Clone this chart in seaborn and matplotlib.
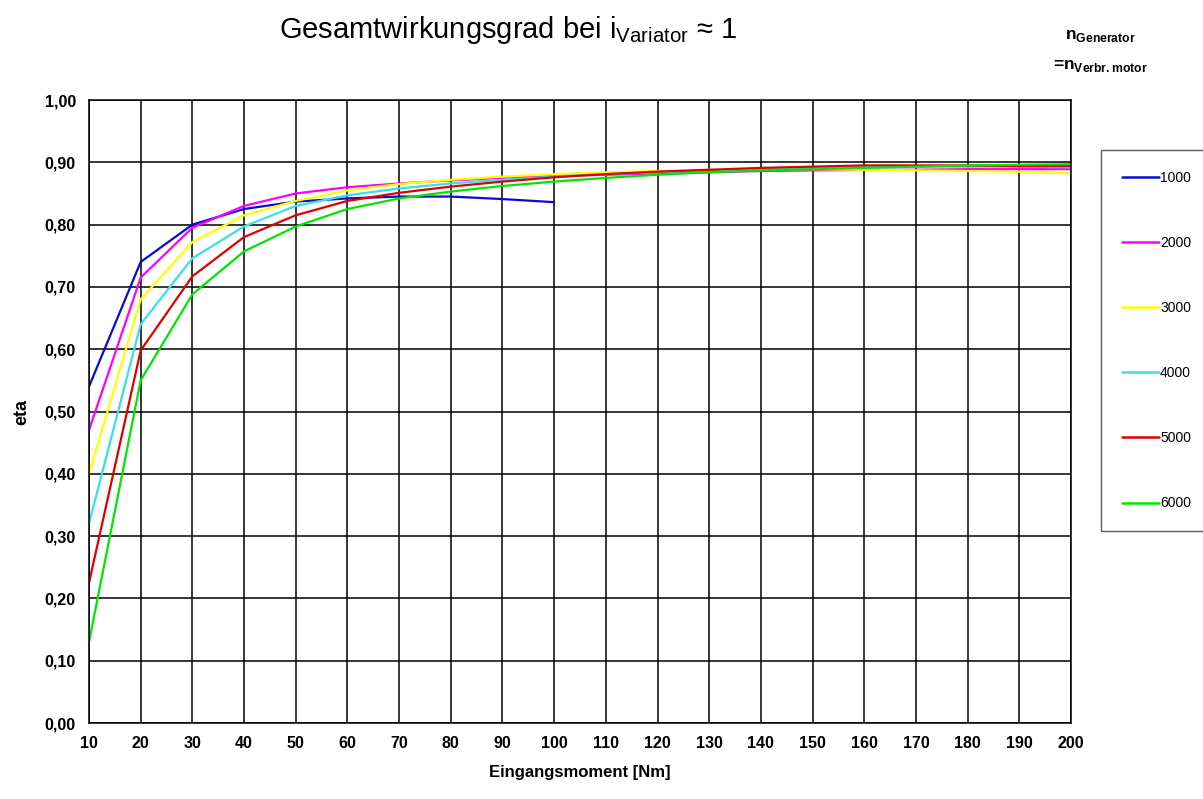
import matplotlib
matplotlib.use("Agg")
import matplotlib.pyplot as plt
import seaborn as sns
import pandas as pd
from matplotlib.ticker import FuncFormatter, MultipleLocator

# Eingangsmoment [Nm]
moment = [10, 20, 30, 40, 50, 60, 70, 80, 90, 100,
          110, 120, 130, 140, 150, 160, 170, 180, 190, 200]

# eta per Drehzahl
eta_1000 = [0.54, 0.74, 0.80, 0.825, 0.837, 0.842, 0.845, 0.845, 0.841, 0.836]
eta_2000 = [0.47, 0.715, 0.795, 0.83, 0.85, 0.86, 0.866, 0.871, 0.875, 0.878,
            0.880, 0.882, 0.884, 0.886, 0.887, 0.888, 0.888, 0.889, 0.889, 0.889]
eta_3000 = [0.40, 0.68, 0.772, 0.815, 0.838, 0.855, 0.865, 0.872, 0.877, 0.881,
            0.884, 0.886, 0.888, 0.889, 0.889, 0.888, 0.887, 0.886, 0.885, 0.882]
eta_4000 = [0.32, 0.64, 0.746, 0.797, 0.83, 0.847, 0.858, 0.866, 0.872, 0.877,
            0.881, 0.884, 0.887, 0.889, 0.891, 0.892, 0.893, 0.893, 0.893, 0.892]
eta_5000 = [0.225, 0.598, 0.717, 0.78, 0.815, 0.838, 0.851, 0.861, 0.869, 0.876,
            0.881, 0.885, 0.888, 0.891, 0.893, 0.895, 0.895, 0.895, 0.894, 0.894]
eta_6000 = [0.13, 0.55, 0.688, 0.757, 0.797, 0.825, 0.842, 0.853, 0.862, 0.869,
            0.875, 0.880, 0.884, 0.887, 0.889, 0.891, 0.893, 0.895, 0.896, 0.897]

drehzahlen = ["1000", "2000", "3000", "4000", "5000", "6000"]
farben = ["#0a0ad8", "#ff00ff", "#ffff00", "#38e2e2", "#e00000", "#00e600"]

serien = [eta_1000, eta_2000, eta_3000, eta_4000, eta_5000, eta_6000]
rows = []
for n, werte in zip(drehzahlen, serien):
    for m, e in zip(moment, werte):
        rows.append({"Eingangsmoment": m, "eta": e, "n": n})
df = pd.DataFrame(rows)

sns.set_style("white")
plt.rcParams['font.family'] = ['Liberation Sans', 'DejaVu Sans']
plt.rcParams['text.color'] = 'black'
plt.rcParams['axes.labelcolor'] = 'black'
plt.rcParams['mathtext.fontset'] = 'custom'
plt.rcParams['mathtext.rm'] = 'Liberation Sans'
plt.rcParams['mathtext.bf'] = 'Liberation Sans:bold'

fig = plt.figure(figsize=(12.03, 7.99), dpi=100)
ax = fig.add_axes([89 / 1203, 1 - 723 / 799, (1071 - 89) / 1203, (723 - 100) / 799])

sns.lineplot(data=df, x="Eingangsmoment", y="eta", hue="n", hue_order=drehzahlen,
             palette=farben, linewidth=1.6, ax=ax, legend=False)

ax.set_xlim(10, 200)
ax.set_ylim(0, 1)
ax.xaxis.set_major_locator(MultipleLocator(10))
ax.yaxis.set_major_locator(MultipleLocator(0.1))
ax.yaxis.set_major_formatter(FuncFormatter(lambda v, p: f"{v:.2f}".replace(".", ",")))
ax.grid(True, color="black", linewidth=1.1)
for s in ax.spines.values():
    s.set_color("black")
    s.set_linewidth(1.1)
ax.tick_params(axis="both", length=6, width=1, color="black", direction="out",
               labelsize=11.5, labelcolor="black")
for lab in ax.get_xticklabels() + ax.get_yticklabels():
    lab.set_fontweight("bold")

ax.set_xlabel("Eingangsmoment [Nm]", fontweight="bold", fontsize=12, labelpad=10)
ax.set_ylabel("eta", fontweight="bold", fontsize=13, labelpad=10)

fig.text(508 / 1203, 1 - 30 / 799, r"Gesamtwirkungsgrad bei i$_{\mathrm{Variator}}$ ≈ 1",
         ha="center", va="center", fontsize=21, color="black")
fig.text(1100 / 1203, 1 - 36 / 799, r"n$_{\mathbf{Generator}}$",
         ha="center", va="center", fontsize=12.5, fontweight="bold")
fig.text(1100 / 1203, 1 - 66 / 799, r"=n$_{\mathbf{Verbr.motor}}$",
         ha="center", va="center", fontsize=12.5, fontweight="bold")

handles = [plt.Line2D([], [], color=c, linewidth=1.8) for c in farben]
leg = fig.legend(handles, drehzahlen, loc="upper left",
                 bbox_to_anchor=(1101 / 1203, 1 - 150 / 799), borderaxespad=0,
                 frameon=True, fancybox=False, edgecolor="#333333", fontsize=10,
                 labelcolor="black", handlelength=2.7, handletextpad=0.05,
                 labelspacing=3.68, borderpad=1.5)
leg.get_frame().set_linewidth(1.0)

fig.savefig("out.png", dpi=100)
